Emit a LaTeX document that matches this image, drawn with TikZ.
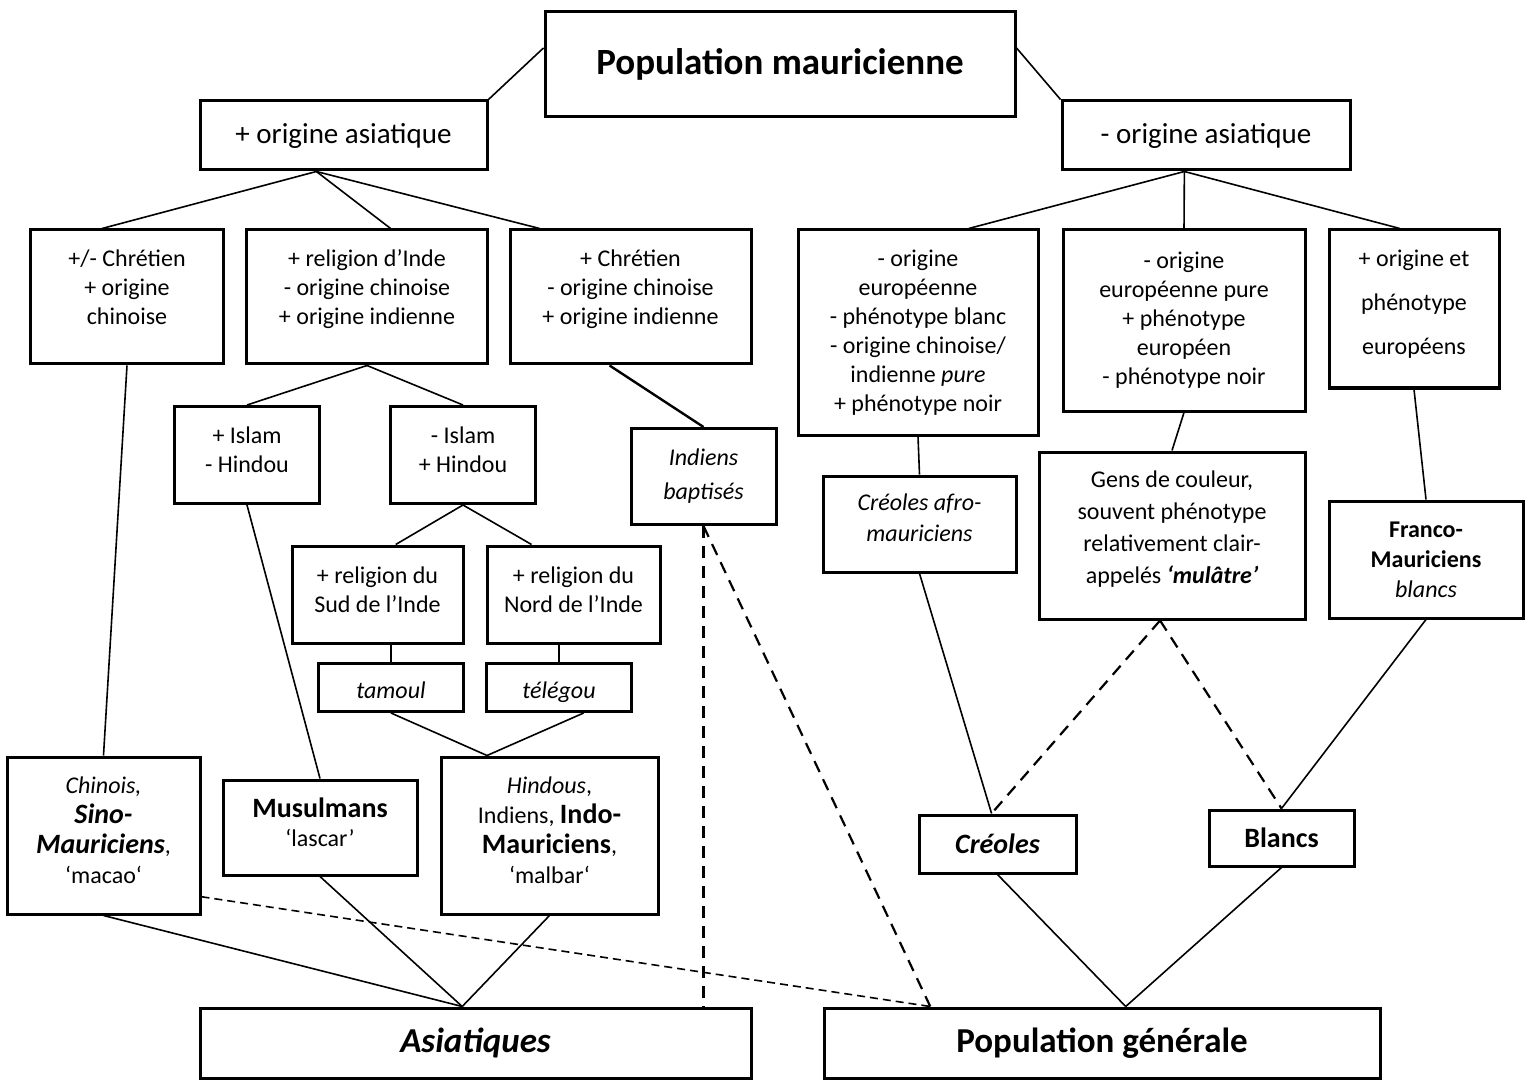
\documentclass[tikz,border=0pt]{standalone}
\usepackage{fontspec}
\setmainfont{Carlito}
\begin{document}
\begin{tikzpicture}[x=0.5pt, y=-0.5pt,
    box/.style = {draw, line width=1.5pt, align=center, inner sep=0pt, font=\fontsize{12}{14.5}\selectfont},
    sz/.style 2 args = {minimum width=#1*0.5pt, minimum height=#2*0.5pt},
    link/.style = {line width=0.8pt},
    dlink/.style = {line width=1.1pt, dash pattern=on 6pt off 4pt},
    slink/.style = {line width=0.8pt, dash pattern=on 4pt off 2.5pt}]
\useasboundingbox (0,0) rectangle (1530,1080);
% top levels
\node [box, sz={470}{105}, font=\fontsize{18.5}{22}\selectfont\bfseries] (pop) at (780,64.5) {Population mauricienne};
\node [box, sz={287}{69}, font=\fontsize{14.5}{17}\selectfont] (pasia) at (343.5,135.5) {+ origine asiatique};
\node [box, sz={288}{69}, font=\fontsize{14.5}{17}\selectfont] (masia) at (1206,135.5) {- origine asiatique};
% asian branch
\node [box, sz={193}{134}] (chrchin) at (127,297) {+/- Chrétien\\+ origine\\chinoise\\[-4.5pt]\mbox{}};
\node [box, sz={241}{134}] (relinde) at (367,297) {+ religion d’Inde\\- origine chinoise\\+ origine indienne\\[-4.5pt]\mbox{}};
\node [box, sz={241}{134}] (chrind) at (630.5,297) {+ Chrétien\\- origine chinoise\\+ origine indienne\\[-4.5pt]\mbox{}};
\node [box, sz={145}{97}] (islam) at (247,455) {+ Islam\\- Hindou\\[-9.5pt]\mbox{}};
\node [box, sz={145}{97}] (hindou) at (463,455) {- Islam\\+ Hindou\\[-9.5pt]\mbox{}};
\node [box, sz={145}{96}, font=\fontsize{12}{17}\selectfont\itshape] (bapt) at (703.5,476.5) {Indiens\\baptisés};
\node [box, sz={171}{97}] (sud) at (377.5,594.5) {+ religion du\\Sud de l’Inde\\[-9.5pt]\mbox{}};
\node [box, sz={173}{97}] (nord) at (573.5,594.5) {+ religion du\\Nord de l’Inde\\[-9.5pt]\mbox{}};
\node [box, sz={145}{48}, text height=12pt, text depth=1pt, font=\fontsize{12}{14.5}\selectfont\itshape] (tamoul) at (391,687.5) {tamoul};
\node [box, sz={145}{48}, text height=12pt, text depth=1pt, font=\fontsize{12}{14.5}\selectfont\itshape] (telegou) at (559,687.5) {télégou};
\node [box, sz={193}{157}, font=\fontsize{12}{15}\selectfont] (sino) at (103.5,835.5)
  {\textit{Chinois,}\\{\fontsize{14}{15}\selectfont\bfseries\itshape Sino-}\\{\fontsize{14}{15}\selectfont\bfseries\itshape Mauriciens},\\‘macao‘\\[-10pt]\mbox{}};
\node [box, sz={194}{95}] (musul) at (320,827.5) {{\fontsize{14}{15}\selectfont\bfseries Musulmans}\\‘lascar’\\[-9.5pt]\mbox{}};
\node [box, sz={217}{157}, font=\fontsize{12}{15}\selectfont] (indo) at (549.5,835.5)
  {\textit{Hindous},\\Indiens, {\fontsize{14}{15}\selectfont\bfseries Indo-}\\{\fontsize{14}{15}\selectfont\bfseries Mauriciens},\\‘malbar‘\\[-10pt]\mbox{}};
% european branch
\node [box, sz={240}{205}] (euro1) at (918,332.5) {- origine\\européenne\\- phénotype blanc\\- origine chinoise/\\indienne \textit{pure}\\+ phénotype noir};
\node [box, sz={242}{181}] (euro2) at (1184,320.5) {- origine\\européenne pure\\+ phénotype\\européen\\- phénotype noir};
\node [box, sz={170}{158}, font=\fontsize{12}{22}\selectfont] (euro3) at (1414,309) {+ origine et\\phénotype\\européens\\[-15pt]\mbox{}};
\node [box, sz={193}{96}, font=\fontsize{12}{15.5}\selectfont\itshape] (afro) at (919.5,524) {Créoles afro-\\mauriciens\\[-9pt]\mbox{}};
\node [box, sz={266}{167}, font=\fontsize{12}{16}\selectfont] (gens) at (1172,535.5) {Gens de couleur,\\souvent phénotype\\relativement clair-\\appelés \textbf{\textit{‘mulâtre’}}\\[-8pt]\mbox{}};
\node [box, sz={194}{117}, font=\fontsize{12}{15}\selectfont] (franco) at (1426,559.5) {\textbf{Franco-}\\\textbf{Mauriciens}\\\textit{blancs}};
\node [box, sz={157}{58}, font=\fontsize{14}{17}\selectfont\bfseries\itshape] (creol) at (997.5,844) {Créoles};
\node [box, sz={145}{56}, font=\fontsize{14}{17}\selectfont\bfseries] (blancs) at (1281.5,838) {Blancs};
% bottom
\node [box, sz={551}{70}, font=\fontsize{17.5}{21}\selectfont\bfseries\itshape] (asiat) at (475.5,1043) {Asiatiques};
\node [box, sz={556}{70}, font=\fontsize{17.5}{21}\selectfont\bfseries] (popgen) at (1102,1043) {Population générale};
% connectors
\draw [link] (pop.176) -- (pasia.north east);
\draw [link] (pop.4) -- (masia.north west);
\draw [link] (pasia.233) -- (chrchin.110);
\draw [link] (pasia.233) -- (relinde.71);
\draw [link] (pasia.233) -- (chrind.143);
\draw [link] (masia.239) -- (euro1.64);
\draw [link] (masia.239) -- (euro2.north);
\draw [link] (masia.239) -- (euro3.100);
\draw [link] (relinde.south) -- (islam.north);
\draw [link] (relinde.south) -- (hindou.north);
\draw [link, line width=1.2pt] (chrind.-107) -- (bapt.north);
\draw [link] (hindou.south) -- (sud.70);
\draw [link] (hindou.south) -- (nord.130);
\draw [link] (tamoul.north |- sud.south) -- (tamoul.north);
\draw [link] (telegou.north |- nord.south) -- (telegou.north);
\draw [link] (tamoul.south) -- (indo.128);
\draw [link] (telegou.-46) -- (indo.128);
\draw [link] (chrchin.south) -- (sino.north);
\draw [link] (islam.south) -- (musul.north);
\draw [link] (sino.south) -- (asiat.110);
\draw [link] (musul.south) -- (asiat.110);
\draw [link] (indo.south) -- (asiat.110);
\draw [dlink] (bapt.south) -- (bapt.south |- asiat.north);
\draw [dlink] (bapt.south) -- (popgen.168);
\draw [slink] (sino.-32) -- (popgen.168);
\draw [link] (euro1.south) -- (afro.north);
\draw [link] (euro2.south) -- (gens.north);
\draw [link] (euro3.south) -- (franco.north);
\draw [link] (afro.south) -- (creol.101);
\draw [link] (franco.south) -- (blancs.north);
\draw [dlink] (gens.-98) -- (creol.101);
\draw [dlink] (gens.-98) -- (blancs.north);
\draw [link] (creol.south) -- (popgen.57);
\draw [link] (blancs.south) -- (popgen.57);
\end{tikzpicture}
\end{document}
